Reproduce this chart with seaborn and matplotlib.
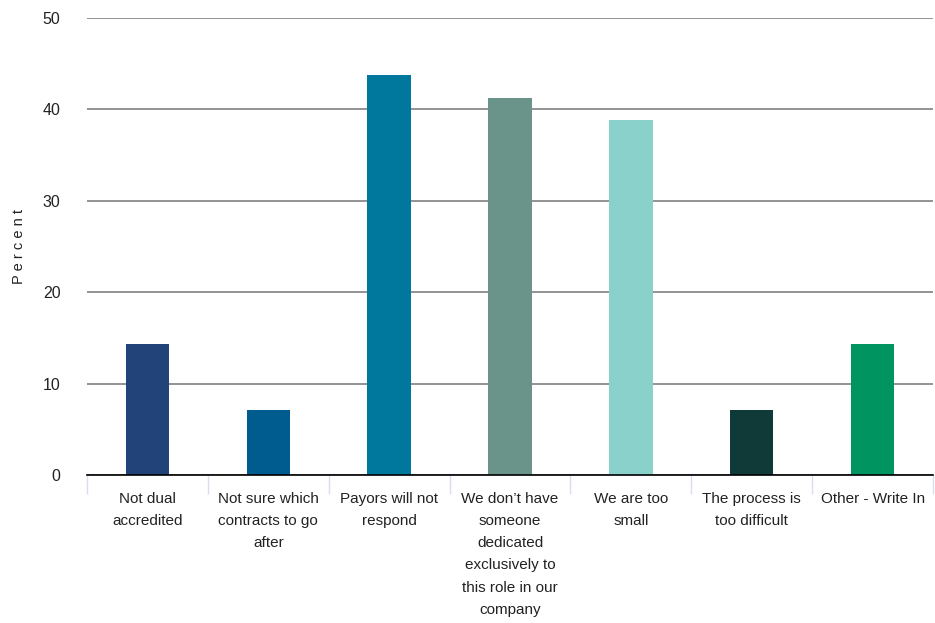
import matplotlib
matplotlib.use("Agg")
import matplotlib.pyplot as plt
import seaborn as sns
import pandas as pd

categories = [
    "Not dual\naccredited",
    "Not sure which\ncontracts to go\nafter",
    "Payors will not\nrespond",
    "We don\u2019t have\nsomeone\ndedicated\nexclusively to\nthis role in our\ncompany",
    "We are too\nsmall",
    "The process is\ntoo difficult",
    "Other - Write In",
]
values = [14.3, 7.1, 43.8, 41.2, 38.8, 7.1, 14.3]
colors = ["#22437A", "#005C8F", "#00789E", "#6A9489", "#8AD1CC", "#0F3A38", "#009460"]
yticks = [0, 10, 20, 30, 40, 50]

sns.set_theme(style="white")
plt.rcParams["font.family"] = ["Liberation Sans", "DejaVu Sans"]

df = pd.DataFrame({"cat": categories, "val": values})

fig = plt.figure(figsize=(9.35, 6.23), dpi=100)
ax = fig.add_axes([87 / 935, 1 - 475 / 623, (933 - 87) / 935, (475 - 18) / 623])

sns.barplot(data=df, x="cat", y="val", hue="cat", palette=colors, legend=False,
            width=0.36, ax=ax, saturation=1, edgecolor="none", linewidth=0)

ax.set_xlim(-0.5, len(categories) - 0.5)
ax.set_ylim(0, 50)
ax.set_yticks(yticks)
ax.set_yticklabels([str(t) for t in yticks], fontsize=11.5, color="#222222")
ax.yaxis.grid(True, color="#808080", linewidth=1.2)
ax.set_axisbelow(True)
ax.tick_params(axis="y", length=0, pad=19)

ax.set_xticks(range(len(categories)))
ax.set_xticklabels(categories, fontsize=11, color="#222222", linespacing=1.75,
                   va="top")
ax.tick_params(axis="x", which="major", length=0, pad=12)
ax.set_xticks([i - 0.5 for i in range(len(categories) + 1)], minor=True)
ax.tick_params(axis="x", which="minor", length=14, width=1, color="#DADDF0",
               direction="out", bottom=True)

for s in ["top", "right", "left"]:
    ax.spines[s].set_visible(False)
ax.spines["bottom"].set_color("#000000")
ax.spines["bottom"].set_linewidth(1.2)

ax.set_xlabel("")
ax.set_ylabel("P e r c e n t", fontsize=10.5, color="#222222", labelpad=12)

fig.savefig("out.png", dpi=100)
